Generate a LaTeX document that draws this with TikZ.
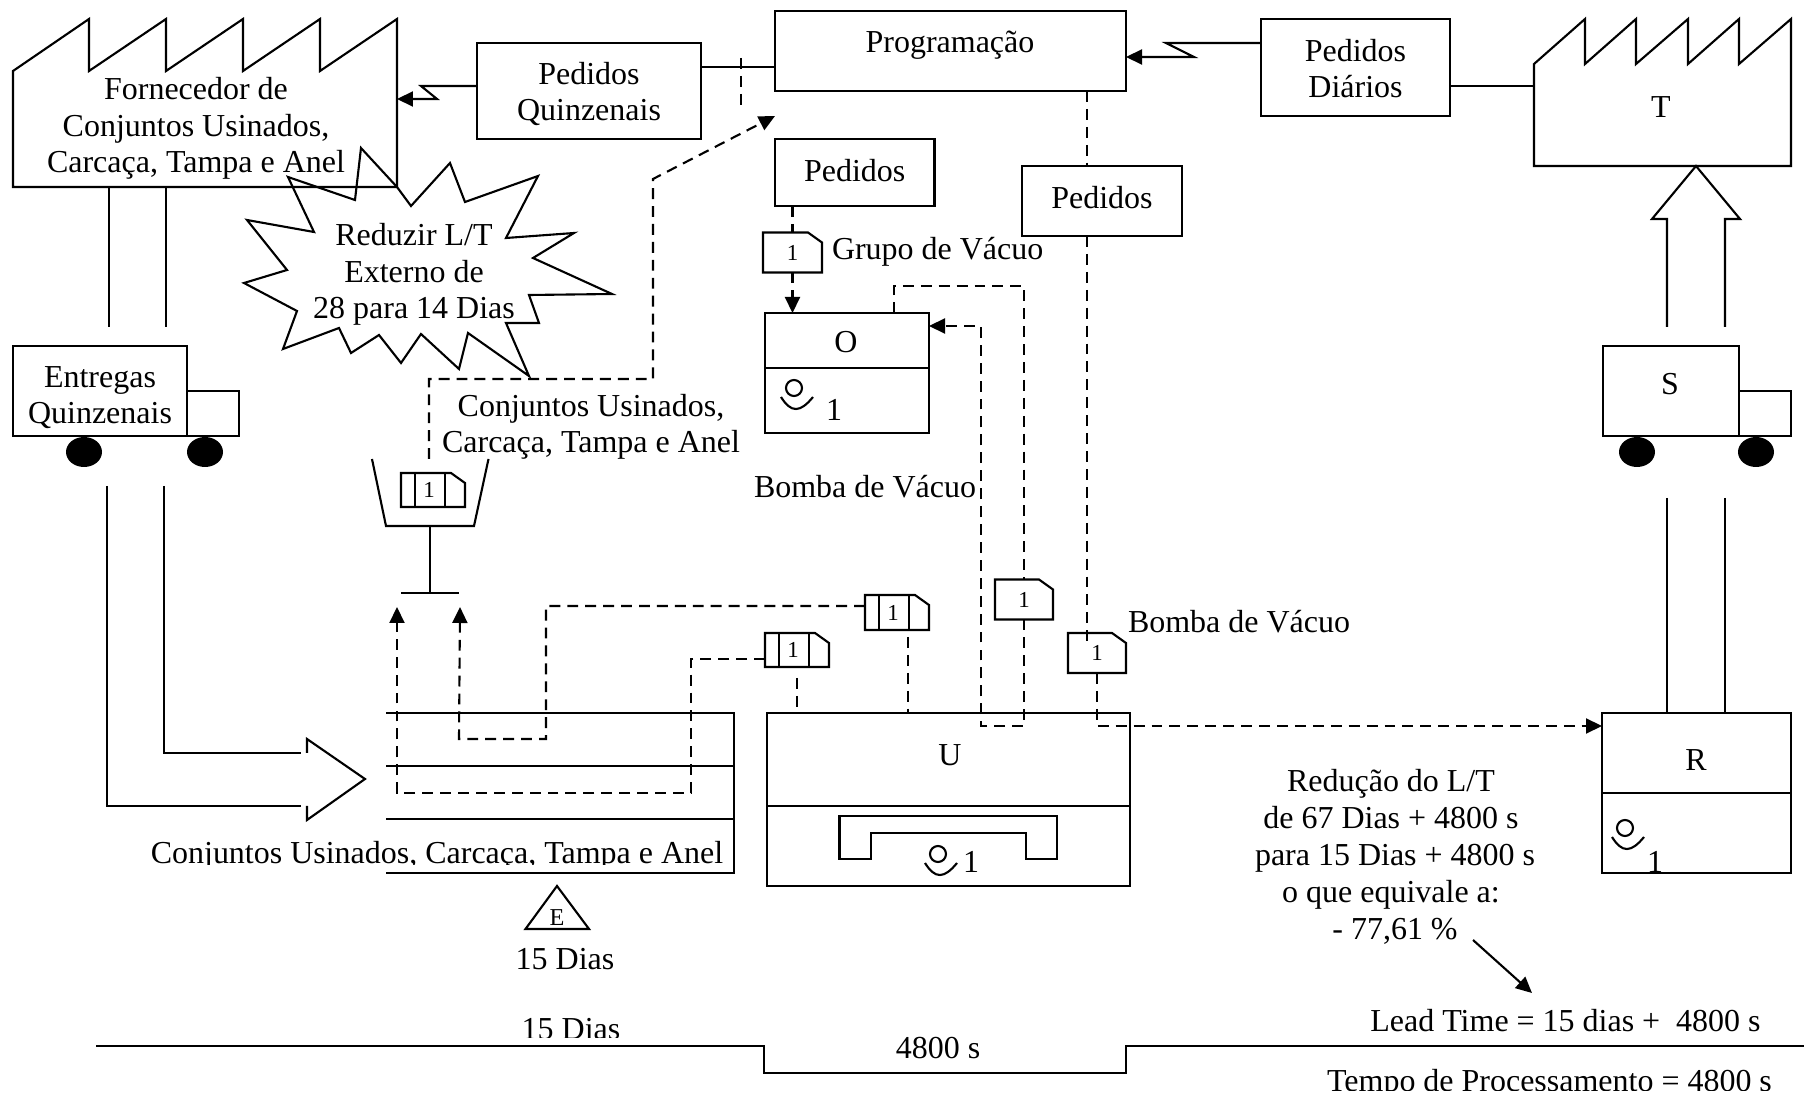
\documentclass[tikz,border=0pt]{standalone}
\usepackage{fontspec}
\setmainfont{Liberation Serif}
\usetikzlibrary{arrows.meta,shapes.geometric}
\begin{document}
\begin{tikzpicture}[x=0.1mm,y=-0.1mm,line width=0.6pt,
box_style/.style={rectangle,draw=black,inner sep=0pt,outer sep=0pt},
txt_style/.style={inner sep=0pt,outer sep=0pt,align=center,anchor=base,font=\fontsize{9.1}{10.5}\selectfont},
kanban_style/.style={rectangle,inner sep=0pt,outer sep=0pt,minimum width=#1,minimum height=4mm,font=\fontsize{6.5}{7.5}\selectfont},
wheel_style/.style={ellipse,fill=black,inner sep=0pt,outer sep=0pt,minimum width=3.6mm,minimum height=3mm},
edge_style/.style={draw=black},
dash_style/.style={draw=black,dash pattern=on 3.1pt off 2pt},
tip_style/.style={-{Triangle[length=1.6mm,width=1.5mm]}}]
\useasboundingbox (0,0) rectangle (1804,1096);
\node[minimum width=38.4mm,minimum height=11.6mm,inner sep=0pt,outer sep=0pt] (forn) at (205,129) {};
\node[txt_style] (forn_txt) at (196,173) {Fornecedor de\\Conjuntos Usinados,\\Carcaça, Tampa e Anel};
\draw[edge_style] (forn.north west) \foreach \px in {89,166,243,320,397} {-- (\px,19) -- (\px,71)} -- (forn.south east) -- (forn.south west) -- cycle;
\node[minimum width=25.7mm,minimum height=10.2mm,inner sep=0pt,outer sep=0pt] (fab) at (1662.5,115) {};
\node[txt_style] (fab_txt) at (1661,118) {T};
\draw[edge_style] (fab.north west) \foreach \px in {1585,1636,1688,1739,1791} {-- (\px,19) -- (\px,64)} -- (fab.south east) -- (fab.south west) -- cycle;
\node[box_style,minimum width=22.4mm,minimum height=9.6mm] (pq) at (589,91) {};
\node[txt_style] (pq_txt) at (589,121) {Pedidos\\Quinzenais};
\node[box_style,minimum width=35.1mm,minimum height=8mm] (prog) at (950.5,51) {};
\node[txt_style] (prog_txt) at (950,53) {Programação};
\node[box_style,minimum width=18.9mm,minimum height=9.7mm] (pd) at (1355.5,67.5) {};
\node[txt_style] (pd_txt) at (1355.5,98) {Pedidos\\Diários};
\node[box_style,minimum width=15.95mm,minimum height=6.7mm] (ped_a) at (854.75,172.5) {};
\node[txt_style] (ped_a_txt) at (854.75,181.5) {Pedidos};
\node[box_style,minimum width=15.95mm,minimum height=7mm] (ped_b) at (1102,201) {};
\node[txt_style] (ped_b_txt) at (1102,208.5) {Pedidos};
\node[box_style,minimum width=16.4mm,minimum height=5.5mm] (op_o) at (847,340.5) {};
\node[txt_style] (o_txt) at (846,353) {O};
\node[box_style,minimum width=16.4mm,minimum height=6.5mm] (op_oi) at (847,400.5) {};
\node[box_style,minimum width=36.3mm,minimum height=9.3mm] (op_u) at (948.5,759.5) {};
\node[box_style,minimum width=36.3mm,minimum height=8mm] (op_ui) at (948.5,846) {};
\node[txt_style] (u_txt) at (950,765) {U};
\node[box_style,minimum width=18.9mm,minimum height=8mm] (op_r) at (1696.5,753) {};
\node[box_style,minimum width=18.9mm,minimum height=8mm] (op_ri) at (1696.5,833) {};
\node[txt_style] (r_txt) at (1696,771) {R};
\node[txt_style] (oi_txt) at (834,421) {1};
\node[txt_style] (ui_txt) at (971,873) {1};
\node[txt_style] (ri_txt) at (1655,872) {1};
\foreach \cx/\cy in {794/388,938/854,1625/828} {
\draw[edge_style,shift={(\cx,\cy)}] (0,0) circle [radius=0.8mm] (-13,9) .. controls (-3,25) and (6,25) .. (19,9);
}
\draw[edge_style] (839.5,859) -- (839.5,816) -- (1057,816) -- (1057,859) -- (1026,859) -- (1026,833) -- (871,833) -- (871,859) -- cycle;
\node[box_style,minimum width=17.4mm,minimum height=9mm] (ent) at (100,391) {};
\node[txt_style] (ent_txt) at (100,424) {Entregas\\Quinzenais};
\node[box_style,minimum width=5.2mm,minimum height=4.5mm] (cab_l) at (213,413.5) {};
\node[wheel_style] (whl_a) at (84,452) {};
\node[wheel_style] (whl_b) at (205,452) {};
\node[box_style,minimum width=13.6mm,minimum height=9mm] (trk) at (1671,391) {};
\node[txt_style] (trk_txt) at (1670,395) {S};
\node[box_style,minimum width=5.2mm,minimum height=4.5mm] (cab_r) at (1765,413.5) {};
\node[wheel_style] (whl_c) at (1637,452) {};
\node[wheel_style] (whl_d) at (1756,452) {};
\node[kanban_style=5.9mm] (kb_g) at (792.5,252.5) {1};
\node[kanban_style=5.8mm] (kb_u) at (1024,599.5) {1};
\node[kanban_style=5.8mm] (kb_r) at (1097,653) {1};
\node[kanban_style=6.4mm,minimum height=3.4mm] (kb_a) at (433,490) {1\kern0.8mm};
\node[kanban_style=6.4mm,minimum height=3.5mm] (kb_b) at (897,612.5) {1\kern0.8mm};
\node[kanban_style=6.4mm,minimum height=3.4mm] (kb_c) at (797,650) {1\kern0.8mm};
\foreach \kb in {kb_g,kb_u,kb_r,kb_a,kb_b,kb_c} {
\draw[edge_style] (\kb.north west) -- ([xshift=-1.4mm]\kb.north east) -- ([yshift=-1mm]\kb.north east) -- (\kb.south east) -- (\kb.south west) -- cycle;
}
\foreach \kb in {kb_a,kb_b,kb_c} {
\draw[edge_style] ([xshift=1.4mm]\kb.north west) -- ([xshift=1.4mm]\kb.south west);
\draw[edge_style] ([xshift=4.4mm]\kb.north west) -- ([xshift=4.4mm]\kb.south west);
}
\coordinate (fa) at (421,86);
\coordinate (fb) at (437,99);
\draw[edge_style,tip_style] (pq.west |- fa) -- (fa) -- (fb) -- (forn.east |- fb);
\coordinate (fc) at (1166,43);
\coordinate (fd) at (1194,57);
\draw[edge_style,tip_style] (pd.west |- fc) -- (fc) -- (fd) -- (prog.east |- fd);
\coordinate (la) at (740,67);
\draw[edge_style] (pq.east |- la) -- (prog.west |- la);
\coordinate (lb) at (1500,86);
\draw[edge_style] (pd.east |- lb) -- (fab.west |- lb);
\coordinate (da) at (741,58);
\coordinate (db) at (741,108);
\draw[dash_style] (da) -- (db);
\coordinate (ca) at (429,459);
\coordinate (cb) at (429,379);
\coordinate (cc) at (653,379);
\coordinate (cd) at (653,179);
\coordinate (ce) at (775,116);
\draw[dash_style,tip_style] (ca) -- (cb) -- (cc) -- (cd) -- (ce);
\draw[dash_style] (ped_a.south -| kb_g) -- (kb_g.north);
\draw[dash_style,tip_style] (kb_g.south) -- (op_o.north -| kb_g);
\coordinate (oa) at (894,286);
\coordinate (ob) at (1024,286);
\coordinate (oc) at (1024,726);
\coordinate (od) at (981,726);
\coordinate (oe) at (981,326);
\draw[dash_style] (op_o.north -| oa) -- (oa) -- (ob) -- (kb_u.north);
\draw[dash_style,tip_style] (kb_u.south) -- (oc) -- (od) -- (oe) -- (op_o.east |- oe);
\coordinate (pa) at (1087,91);
\coordinate (pb) at (1087,643);
\draw[dash_style] (prog.south -| pa) -- (ped_b.north -| pa);
\draw[dash_style] (ped_b.south -| pa) -- (pb);
\coordinate (ra) at (1097,726);
\draw[dash_style,tip_style] (kb_r.south) -- (ra) -- (op_r.west |- ra);
\coordinate (ua) at (797,678);
\coordinate (ub) at (908,637);
\draw[dash_style] (ua) -- (op_u.north -| ua);
\draw[dash_style] (ub) -- (op_u.north -| ub);
\coordinate (sa) at (397,607);
\coordinate (sb) at (397,793);
\coordinate (sc) at (691,793);
\coordinate (sd) at (691,659);
\draw[dash_style,tip_style] (kb_c.west |- sd) -- (sd) -- (sc) -- (sb) -- (sa);
\coordinate (se) at (460,607);
\coordinate (sf) at (459,739);
\coordinate (sg) at (546,739);
\coordinate (sh) at (546,606);
\draw[dash_style,tip_style] (kb_b.west |- sh) -- (sh) -- (sg) -- (sf) -- (se);
\draw[edge_style] (372,459) -- (386,526) -- (474,526) -- (488.5,459);
\draw[edge_style] (430,526) -- (430,593);
\draw[edge_style] (401,593) -- (459,593);
\draw[edge_style] (386,713) -- (734,713) -- (734,873) -- (386,873);
\foreach \sy in {766,819} {
\draw[edge_style] (386,\sy) -- (734,\sy);
}
\coordinate (ta) at (109,327);
\coordinate (tb) at (166,327);
\draw[edge_style] (forn.south -| ta) -- (ta);
\draw[edge_style] (forn.south -| tb) -- (tb);
\draw[edge_style] (107,486) -- (107,806) -- (301,806);
\draw[edge_style] (164,486) -- (164,753) -- (301,753);
\draw[edge_style] (307,753) -- (307,739) -- (365,779) -- (307,820) -- (307,806);
\coordinate (va) at (1667,327);
\coordinate (vb) at (1725,327);
\draw[edge_style] (va) -- (1667,219) -- (1652,219) -- (1696,166) -- (1740,219) -- (1725,219) -- (vb);
\coordinate (vc) at (1667,498);
\coordinate (vd) at (1725,498);
\draw[edge_style] (vc) -- (op_r.north -| vc);
\draw[edge_style] (vd) -- (op_r.north -| vd);
\draw[edge_style] (361,148) -- (397,187) -- (411,206) -- (450,163) -- (465,202) -- (538,176) -- (506,238) -- (574,233) -- (533,258) -- (612,294) -- (529,295) -- (539,323) -- (506,323) -- (529,376) -- (468,333) -- (459,369) -- (421,334) -- (401,363) -- (379,335) -- (351,353) -- (339,328) -- (283,349) -- (297,311) -- (244,283) -- (287,270) -- (247,220) -- (314,232) -- (288,177) -- (355,200) -- cycle;
\node[txt_style] (burst_txt) at (414,319) {Reduzir L/T\\Externo de\\28 para 14 Dias};
\node[txt_style] (conj_txt) at (591,453) {Conjuntos Usinados,\\Carcaça, Tampa e Anel};
\node[txt_style,anchor=base west] (grp_txt) at (832,260) {Grupo de Vácuo};
\node[txt_style,anchor=base west] (bba_txt) at (754,498) {Bomba de Vácuo};
\node[txt_style,anchor=base west] (bbb_txt) at (1128,633) {Bomba de Vácuo};
\begin{scope}
\clip (0,0) rectangle (1804,864);
\node[txt_style] (shelf_txt) at (437,863) {Conjuntos Usinados, Carcaça, Tampa e Anel};
\end{scope}
\coordinate (ea) at (557,886);
\draw[edge_style] (ea) -- (589,929) -- (525.5,929) -- cycle;
\node[txt_style,font=\fontsize{6.9}{8}\selectfont] (e_txt) at (557,925) {E};
\node[txt_style] (dias_a) at (565,969) {15 Dias};
\begin{scope}
\clip (0,0) rectangle (1804,1037);
\node[txt_style] (dias_b) at (571,1039) {15 Dias};
\end{scope}
\draw[edge_style] (96,1046) -- (764,1046) -- (764,1073) -- (1126,1073) -- (1126,1046) -- (1804,1046);
\node[txt_style] (tmp_txt) at (938,1058) {4800 s};
\node[txt_style] (red_txt) at (1391,939) {Redução do L/T\\de 67 Dias + 4800 s\\\kern2.3pt para 15 Dias + 4800 s\\o que equivale a:\\\kern2.3pt - 77,61 \%};
\coordinate (ga) at (1473,940);
\coordinate (gb) at (1532,993);
\draw[edge_style,tip_style] (ga) -- (gb);
\node[txt_style] (lead_txt) at (1565.5,1032) {Lead Time = 15 dias +\ \ 4800 s};
\begin{scope}
\clip (0,0) rectangle (1804,1090);
\node[txt_style] (proc_txt) at (1549.5,1091) {Tempo de Processamento = 4800 s};
\end{scope}
\end{tikzpicture}
\end{document}
